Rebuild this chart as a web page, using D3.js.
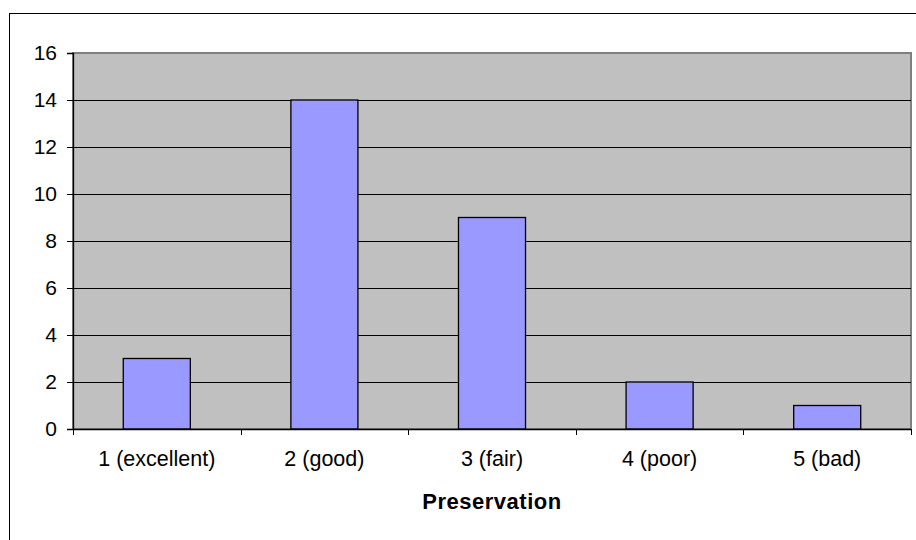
<!DOCTYPE html>
<html>
<head>
<meta charset="utf-8">
<script src="https://cdn.jsdelivr.net/npm/d3@7"></script>
<style>
  html, body { margin: 0; padding: 0; background: #fff; }
  svg { display: block; }
  text { font-family: Arial, "Liberation Sans", sans-serif; fill: #000; }
</style>
</head>
<body>
<svg id="chart" width="916" height="540"></svg>
<script>
// Preservation grade counts
const categories = ["1 (excellent)", "2 (good)", "3 (fair)", "4 (poor)", "5 (bad)"];
const counts = [3, 14, 9, 2, 1];
const yTicks = [0, 2, 4, 6, 8, 10, 12, 14, 16];
const xTitle = "Preservation";

const W = 916, H = 540;
const plot = { left: 73, right: 911, top: 53, bottom: 429 };

const svg = d3.select("#chart");

// outer chart frame
svg.append("rect")
  .attr("x", 9.5).attr("y", 13.5)
  .attr("width", W + 10).attr("height", H + 10)
  .attr("fill", "#fff").attr("stroke", "#000").attr("stroke-width", 1);

const x = d3.scaleBand().domain(categories).range([plot.left, plot.right]).paddingInner(0).paddingOuter(0);
const y = d3.scaleLinear().domain([0, 16]).range([plot.bottom, plot.top]);

// plot area background
svg.append("rect")
  .attr("x", plot.left).attr("y", plot.top)
  .attr("width", plot.right - plot.left).attr("height", plot.bottom - plot.top)
  .attr("fill", "#c0c0c0").attr("stroke", "#808080").attr("stroke-width", 2);

// horizontal gridlines
svg.append("g").selectAll("line")
  .data(yTicks.filter(d => d > 0 && d < 16))
  .join("line")
  .attr("x1", plot.left).attr("x2", plot.right)
  .attr("y1", d => Math.round(y(d)) + 0.5).attr("y2", d => Math.round(y(d)) + 0.5)
  .attr("stroke", "#000").attr("stroke-width", 1);

// bars: gap width 150% of the bar width
const barW = x.bandwidth() / 2.5;
svg.append("g").selectAll("rect")
  .data(counts)
  .join("rect")
  .attr("x", (d, i) => x(categories[i]) + (x.bandwidth() - barW) / 2)
  .attr("y", d => y(d))
  .attr("width", barW)
  .attr("height", d => y(0) - y(d))
  .attr("fill", "#9999ff")
  .attr("stroke", "#000")
  .attr("stroke-width", 1.3);

// y axis
const yAxis = d3.axisLeft(y).tickValues(yTicks).tickSize(6).tickPadding(10).tickFormat(d3.format("d"));
const gy = svg.append("g").attr("transform", `translate(${plot.left},0)`).call(yAxis);
gy.select(".domain").attr("stroke", "#000").attr("stroke-width", 1.3);
gy.selectAll(".tick line").attr("stroke", "#000");
gy.selectAll(".tick text")
  .attr("font-size", 21)
  .attr("font-family", "Arial, 'Liberation Sans', sans-serif");

// x axis with ticks at category boundaries
const gx = svg.append("g").attr("transform", `translate(0,${plot.bottom})`);
gx.append("line")
  .attr("x1", plot.left).attr("x2", plot.right)
  .attr("y1", 0.5).attr("y2", 0.5)
  .attr("stroke", "#000").attr("stroke-width", 1.3);
const bounds = categories.map(c => x(c)).concat([plot.right]);
gx.selectAll("line.tick")
  .data(bounds)
  .join("line")
  .attr("class", "tick")
  .attr("x1", d => Math.round(d) + 0.5).attr("x2", d => Math.round(d) + 0.5)
  .attr("y1", 0).attr("y2", 6)
  .attr("stroke", "#000");
gx.selectAll("text")
  .data(categories)
  .join("text")
  .attr("x", d => x(d) + x.bandwidth() / 2)
  .attr("y", 37)
  .attr("text-anchor", "middle")
  .attr("font-size", 21.5)
  .text(d => d);

// axis title
svg.append("text")
  .attr("x", (plot.left + plot.right) / 2)
  .attr("y", 509)
  .attr("text-anchor", "middle")
  .attr("font-size", 22)
  .attr("font-weight", "bold")
  .attr("letter-spacing", "0.5px")
  .text(xTitle);
</script>
</body>
</html>
